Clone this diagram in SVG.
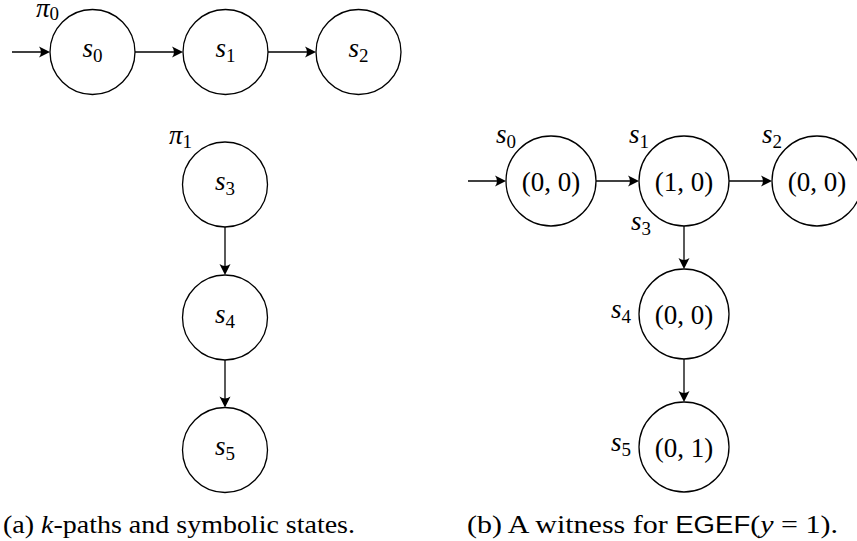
<svg xmlns="http://www.w3.org/2000/svg" width="857" height="541" viewBox="0 0 857 541" font-family="'Liberation Serif','DejaVu Serif',serif">
<defs>
<style>
.node{fill:#fff;stroke:#000;stroke-width:1.3}
.edge{fill:none;stroke:#000;stroke-width:1.3;marker-end:url(#ah)}
text{font-family:'Liberation Serif','DejaVu Serif',serif;fill:#000}
.m{font-size:27px}
.mi{font-style:italic}
.sub{font-size:19px;font-style:normal}
.cap{font-size:25px}
.sf{font-family:'Liberation Sans','DejaVu Sans',sans-serif;font-size:23px}
</style>
<marker id="ah" viewBox="-12 -6 14 12" markerWidth="14" markerHeight="12" refX="-2" refY="0" orient="auto" markerUnits="userSpaceOnUse">
<path d="M0,0 L-11,-5.5 Q-7,0 -11,5.5 Z" fill="#000"/>
</marker>
</defs>

<g id="connectors">
<path class="edge" d="M12,52 H48"/>
<path class="edge" d="M135,52 H181"/>
<path class="edge" d="M268,52 H314"/>
<path class="edge" d="M225,227 V273"/>
<path class="edge" d="M225,360 V405.5"/>
<path class="edge" d="M468,181 H504"/>
<path class="edge" d="M596,181 H637"/>
<path class="edge" d="M729,181 H770"/>
<path class="edge" d="M684,226 V267"/>
<path class="edge" d="M684,359 V400"/>
</g>

<g id="label-pi0"><text class="m" x="36" y="17"><tspan class="mi">π</tspan><tspan class="sub" dy="3">0</tspan></text></g>
<g id="a-s0"><circle class="node" cx="92.5" cy="52" r="42.5"/><text class="m" x="92.5" y="57" text-anchor="middle"><tspan class="mi">s</tspan><tspan class="sub" dy="5">0</tspan></text></g>
<g id="a-s1"><circle class="node" cx="225.5" cy="52" r="42.5"/><text class="m" x="225.5" y="57" text-anchor="middle"><tspan class="mi">s</tspan><tspan class="sub" dy="5">1</tspan></text></g>
<g id="a-s2"><circle class="node" cx="358.5" cy="52" r="42.5"/><text class="m" x="358.5" y="57" text-anchor="middle"><tspan class="mi">s</tspan><tspan class="sub" dy="5">2</tspan></text></g>

<g id="label-pi1"><text class="m" x="169" y="144"><tspan class="mi">π</tspan><tspan class="sub" dy="4">1</tspan></text></g>
<g id="a-s3"><circle class="node" cx="225" cy="184.5" r="42.5"/><text class="m" x="225" y="189.5" text-anchor="middle"><tspan class="mi">s</tspan><tspan class="sub" dy="5">3</tspan></text></g>
<g id="a-s4"><circle class="node" cx="225" cy="317.5" r="42.5"/><text class="m" x="225" y="322.5" text-anchor="middle"><tspan class="mi">s</tspan><tspan class="sub" dy="5">4</tspan></text></g>
<g id="a-s5"><circle class="node" cx="225" cy="450" r="42.5"/><text class="m" x="225" y="455" text-anchor="middle"><tspan class="mi">s</tspan><tspan class="sub" dy="5">5</tspan></text></g>

<g id="b-s0"><circle class="node" cx="551" cy="181" r="45"/><text class="m" x="551" y="191" text-anchor="middle">(0, 0)</text><text class="m" x="496" y="143"><tspan class="mi">s</tspan><tspan class="sub" dy="5">0</tspan></text></g>
<g id="b-s1"><circle class="node" cx="684" cy="181" r="45"/><text class="m" x="684" y="191" text-anchor="middle">(1, 0)</text><text class="m" x="629" y="143"><tspan class="mi">s</tspan><tspan class="sub" dy="5">1</tspan></text><text class="m" x="631" y="230"><tspan class="mi">s</tspan><tspan class="sub" dy="5">3</tspan></text></g>
<g id="b-s2"><circle class="node" cx="817" cy="181" r="45"/><text class="m" x="817" y="191" text-anchor="middle">(0, 0)</text><text class="m" x="762" y="143"><tspan class="mi">s</tspan><tspan class="sub" dy="5">2</tspan></text></g>
<g id="b-s4"><circle class="node" cx="684" cy="314" r="45"/><text class="m" x="684" y="324" text-anchor="middle">(0, 0)</text><text class="m" x="611" y="318"><tspan class="mi">s</tspan><tspan class="sub" dy="5">4</tspan></text></g>
<g id="b-s5"><circle class="node" cx="684" cy="447" r="45"/><text class="m" x="684" y="457" text-anchor="middle">(0, 1)</text><text class="m" x="611" y="451"><tspan class="mi">s</tspan><tspan class="sub" dy="5">5</tspan></text></g>

<g id="captions">
<text class="cap" x="3" y="533" textLength="352" lengthAdjust="spacingAndGlyphs">(a) <tspan class="mi">k</tspan>-paths and symbolic states.</text>
<text class="cap" x="467" y="533" textLength="371" lengthAdjust="spacingAndGlyphs">(b) A witness for <tspan class="sf">EGEF</tspan>(<tspan class="mi">y</tspan> = 1).</text>
</g>
</svg>
